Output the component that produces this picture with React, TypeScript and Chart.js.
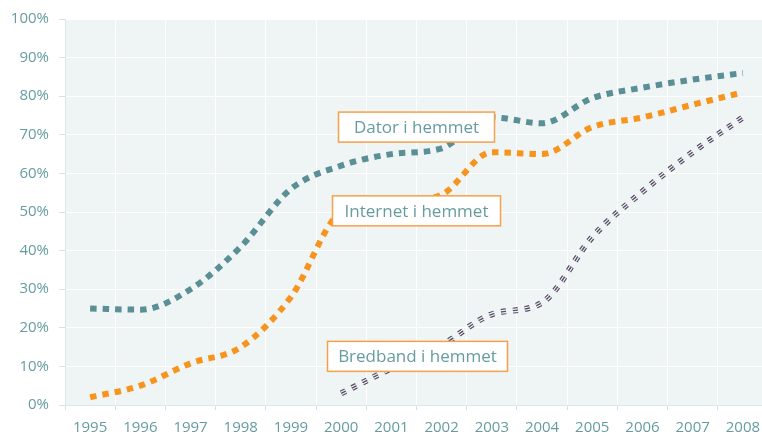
import React, { useEffect, useRef } from "react";
import { Chart, registerables } from "chart.js";
Chart.register(...registerables);

const years = ["1995","1996","1997","1998","1999","2000","2001","2002","2003","2004","2005","2006","2007","2008"];
const dator = [25, 24.7, 30, 41, 56, 62, 65, 66.5, 74.5, 73, 79.5, 82.2, 84.3, 86];
const internet = [2, 5, 10.8, 15, 28, 50, 52.5, 54.5, 65.5, 65, 72, 74.5, 77.8, 81];
const bredband = [null, null, null, null, null, 3, 9.5, 15.5, 23.5, 26.5, 43.5, 55.3, 65.5, 74.5];
const yTicks = [0, 10, 20, 30, 40, 50, 60, 70, 80, 90, 100];
const seriesLabels = ["Dator i hemmet", "Internet i hemmet", "Bredband i hemmet"];
// label anchors: [category position, value]
const labelAnchors: [number, number][] = [[6.5, 72], [6.5, 50.3], [6.52, 12.6]];
const labelBoxWidths = [156, 168, 180];

const TEAL = "#5b8f96";
const ORANGE = "#f7941e";
const PURPLE = "#564c66";
const PLOT_BG = "#eff5f5";
const TEXT = "#669ca1";

const bgPlugin = {
  id: "plotBg",
  beforeDraw(chart: any) {
    const { ctx, chartArea } = chart;
    ctx.save();
    ctx.fillStyle = PLOT_BG;
    ctx.fillRect(chartArea.left, chartArea.top, chartArea.right - chartArea.left, chartArea.bottom - chartArea.top);
    ctx.restore();
  },
};

const labelPlugin = {
  id: "seriesBoxes",
  afterDatasetsDraw(chart: any) {
    const { ctx } = chart;
    const xs = chart.scales.x;
    const ys = chart.scales.y;
    ctx.save();
    ctx.font = "17px 'Open Sans'";
    ctx.textAlign = "center";
    ctx.textBaseline = "middle";
    seriesLabels.forEach((t, i) => {
      const [c, v] = labelAnchors[i];
      const x0 = xs.getPixelForValue(Math.floor(c));
      const x1 = xs.getPixelForValue(Math.floor(c) + 1);
      const cx = x0 + (x1 - x0) * (c - Math.floor(c));
      const cy = ys.getPixelForValue(v);
      const w = labelBoxWidths[i];
      const h = 30;
      ctx.fillStyle = "#ffffff";
      ctx.fillRect(cx - w / 2, cy - h / 2, w, h);
      ctx.strokeStyle = "#f5a04a";
      ctx.lineWidth = 1.5;
      ctx.strokeRect(cx - w / 2, cy - h / 2, w, h);
      ctx.fillStyle = TEXT;
      ctx.fillText(t, cx, cy + 1);
    });
    ctx.restore();
  },
};

export default function App() {
  const ref = useRef<HTMLCanvasElement>(null);
  useEffect(() => {
    if (!ref.current) return;
    const common = { fill: false, pointRadius: 0, cubicInterpolationMode: "monotone" as const, borderCapStyle: "butt" as const };
    const chart = new Chart(ref.current, {
      type: "line",
      data: {
        labels: years,
        datasets: [
          { ...common, label: seriesLabels[0], data: dator, borderColor: TEAL, borderWidth: 6, borderDash: [6.5, 6], order: 1 },
          { ...common, label: seriesLabels[1], data: internet, borderColor: ORANGE, borderWidth: 6, borderDash: [6.5, 6], order: 2 },
          { ...common, label: seriesLabels[2], data: bredband, borderColor: PURPLE, borderWidth: 1.4, borderDash: [5, 7], order: 3 },
          { ...common, label: "_b2", data: bredband, borderColor: "#f4f7f8", borderWidth: 3.6, borderDash: [5, 7], order: 4 },
          { ...common, label: "_b3", data: bredband, borderColor: PURPLE, borderWidth: 6, borderDash: [5, 7], order: 5 },
        ],
      },
      options: {
        responsive: false,
        animation: false,
        devicePixelRatio: 1,
        layout: { padding: { top: 17, left: 0, right: 0, bottom: 0 } },
        plugins: { legend: { display: false }, tooltip: { enabled: false } },
        scales: {
          x: {
            offset: true,
            grid: { color: "#ffffff", lineWidth: 1, tickLength: 5, tickColor: "#d6e2e2", offset: true },
            border: { color: "#dde7e7" },
            ticks: { color: TEXT, font: { family: "'Open Sans'", size: 15 }, padding: 9, maxRotation: 0, autoSkip: false },
            afterFit(s: any) { s.height = 38; s.paddingLeft = 0; s.paddingRight = 0; },
          },
          y: {
            min: 0,
            max: 100,
            afterBuildTicks(s: any) { s.ticks = yTicks.map((v) => ({ value: v })); },
            grid: { color: "#ffffff", lineWidth: 1, tickLength: 6, tickColor: "#d6e2e2" },
            border: { color: "#dde7e7" },
            ticks: { color: TEXT, font: { family: "'Open Sans'", size: 15 }, padding: 10, callback: (v: any) => v + "%" },
            afterFit(s: any) { s.width = 65; },
          },
        },
      },
      plugins: [bgPlugin, labelPlugin],
    });
    return () => chart.destroy();
  }, []);
  return (
    <div style={{ position: "fixed", left: 0, top: 0, width: 762, height: 443, overflow: "hidden", background: "#fff" }}>
      <canvas ref={ref} width={768} height={443} style={{ display: "block" }} />
    </div>
  );
}
